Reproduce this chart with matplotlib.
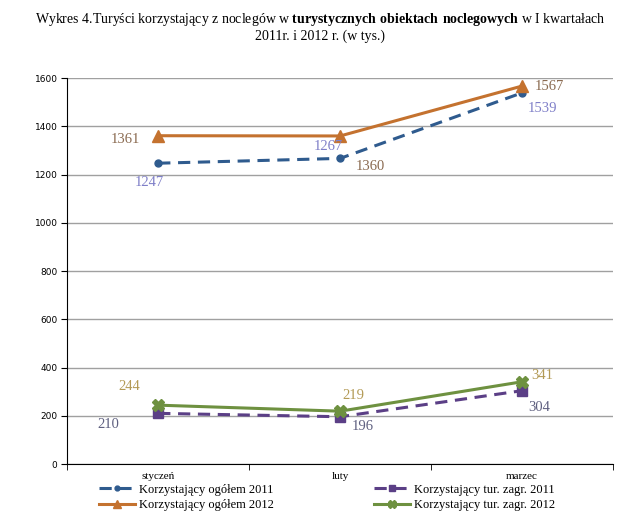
import matplotlib
matplotlib.use("Agg")
import matplotlib.pyplot as plt

plt.rcParams.update({
    "font.family": ["Liberation Serif", "DejaVu Serif"],
    "mathtext.fontset": "custom",
    "mathtext.rm": "Liberation Serif",
    "mathtext.bf": "Liberation Serif:bold",
})

# dane
months = ["styczeń", "luty", "marzec"]
ogolem_2011 = [1247, 1267, 1539]
ogolem_2012 = [1361, 1360, 1567]
zagr_2011 = [210, 196, 304]
zagr_2012 = [244, 219, 341]
y_ticks = [0, 200, 400, 600, 800, 1000, 1200, 1400, 1600]

BLUE = "#2F5B8E"
ORANGE = "#C4722F"
PURPLE = "#5B3F86"
GREEN = "#6E9140"

fig = plt.figure(figsize=(6.4, 5.17), dpi=100)
ax = fig.add_axes([0.105, 0.1025, 0.853, 0.7465])

x = [0, 1, 2]
ax.plot(x, ogolem_2011, color=BLUE, lw=2.2, ls=(0, (4, 2.5)), marker="o", ms=5,
        label="Korzystający ogółem 2011", zorder=3)
ax.plot(x, ogolem_2012, color=ORANGE, lw=2.2, marker="^", ms=8,
        label="Korzystający ogółem 2012", zorder=3)
ax.plot(x, zagr_2011, color=PURPLE, lw=2.2, ls=(0, (4, 2.5)), marker="s", ms=7,
        label="Korzystający tur. zagr. 2011", zorder=3)
ax.plot(x, zagr_2012, color=GREEN, lw=2.2, marker="X", ms=8,
        label="Korzystający tur. zagr. 2012", zorder=4)

# etykiety danych (przesunięcia w pikselach)
BROWN_T = "#8A6A50"
LAV_T = "#7F7FC8"
OLIVE_T = "#B39A55"
GREYP_T = "#5F6080"

def lab(xi, yi, dx, dy, txt, col):
    ax.annotate(txt, (xi, yi), xytext=(dx, -dy), textcoords="offset pixels",
                ha="center", va="center", fontsize=10.5, color=col)

lab(0, ogolem_2012[0], -33, 4, str(ogolem_2012[0]), BROWN_T)
lab(0, ogolem_2011[0], -9, 19, str(ogolem_2011[0]), LAV_T)
lab(1, ogolem_2011[1], -12, -12, str(ogolem_2011[1]), LAV_T)
lab(1, ogolem_2012[1], 30, 31, str(ogolem_2012[1]), BROWN_T)
lab(2, ogolem_2012[2], 27, 0, str(ogolem_2012[2]), BROWN_T)
lab(2, ogolem_2011[2], 20, 16, str(ogolem_2011[2]), LAV_T)

lab(0, zagr_2012[0], -29, -19, str(zagr_2012[0]), OLIVE_T)
lab(0, zagr_2011[0], -50, 11, str(zagr_2011[0]), GREYP_T)
lab(1, zagr_2012[1], 13, -16, str(zagr_2012[1]), OLIVE_T)
lab(1, zagr_2011[1], 23, 10, str(zagr_2011[1]), GREYP_T)
lab(2, zagr_2012[2], 20, -6, str(zagr_2012[2]), OLIVE_T)
lab(2, zagr_2011[2], 17, 17, str(zagr_2011[2]), GREYP_T)

ax.set_xlim(-0.5, 2.5)
ax.set_ylim(0, 1600)
ax.set_yticks(y_ticks)
ax.set_yticklabels([str(v) for v in y_ticks], family="DejaVu Sans", fontsize=6.5)
ax.grid(axis="y", color="#A0A0A0", lw=1)
ax.set_axisbelow(True)

ax.set_xticks(x)
ax.set_xticklabels(months, fontsize=8)
ax.set_xticks([-0.5, 0.5, 1.5, 2.5], minor=True)
ax.tick_params(axis="x", which="major", length=0, pad=6)
ax.tick_params(axis="x", which="minor", length=4, color="black")
ax.tick_params(axis="y", length=4, color="black", pad=3)

for s in ["top", "right"]:
    ax.spines[s].set_visible(False)
ax.spines["left"].set_color("black")
ax.spines["bottom"].set_color("black")

fig.text(0.5, 0.978,
         "Wykres 4.Turyści korzystający z noclegów w $\\bf{turystycznych\\ obiektach\\ noclegowych}$ w I kwartałach\n2011r. i 2012 r. (w tys.)",
         ha="center", va="top", fontsize=10, linespacing=1.15)

fig.legend(loc="upper center", bbox_to_anchor=(0.511, 0.074), ncol=2, frameon=False,
           fontsize=9, handlelength=2.9, columnspacing=8.0, labelspacing=0.3,
           handletextpad=0.3, borderaxespad=0, markerscale=0.7)

fig.savefig("out.png", dpi=100)
